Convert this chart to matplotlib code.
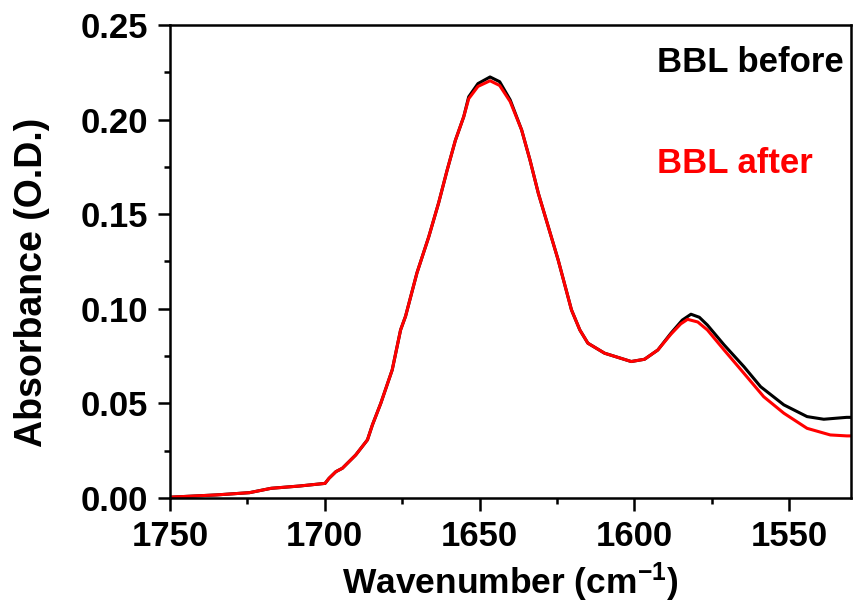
import matplotlib
matplotlib.use("Agg")
import matplotlib.pyplot as plt
import matplotlib.ticker as ticker

plt.rcParams['font.family'] = ['Liberation Sans', 'DejaVu Sans']
plt.rcParams['font.weight'] = 'bold'
plt.rcParams['mathtext.fontset'] = 'custom'
plt.rcParams['mathtext.bf'] = 'Liberation Sans:bold'
plt.rcParams['mathtext.rm'] = 'Liberation Sans:bold'
plt.rcParams['mathtext.default'] = 'bf'

# absorbance spectra (wavenumber in cm-1, absorbance in O.D.)
wn_before = [1750, 1735, 1724.3, 1717.3, 1708.2, 1699.9, 1698.6, 1696.4, 1694.3,
             1690.0, 1686.2, 1684.6, 1681.9, 1678.2, 1675.5, 1673.9, 1670.2,
             1666.4, 1663.2, 1660.5, 1657.8, 1655.1, 1653.5, 1650.5, 1646.6,
             1643.5, 1640.1, 1636.4, 1633.7, 1631.0, 1627.8, 1624.6,
             1620.3, 1617.6, 1615.0, 1609.6, 1601.0, 1596.7, 1592.4, 1588.2,
             1584.5, 1581.7, 1579.0, 1576.4, 1571.0, 1564.6, 1559.2, 1551.7,
             1544.2, 1538.8, 1531.4, 1530]
abs_before = [0.0004, 0.0016, 0.0028, 0.0051, 0.0063, 0.0077, 0.0104, 0.0139, 0.0157,
              0.0227, 0.0307, 0.0386, 0.050, 0.0677, 0.0888, 0.096, 0.119,
              0.138, 0.156, 0.173, 0.189, 0.2015, 0.212, 0.219, 0.2225,
              0.220, 0.2104, 0.1945, 0.1786, 0.161, 0.1434, 0.1258,
              0.0994, 0.0888, 0.0818, 0.0765, 0.0721, 0.0733, 0.0782, 0.087,
              0.094, 0.0971, 0.0955, 0.0914, 0.0809, 0.0694, 0.0588, 0.0492,
              0.043, 0.0416, 0.0426, 0.0426]

wn_after = [1750, 1735, 1724.3, 1717.3, 1708.2, 1699.9, 1698.6, 1696.4, 1694.3,
            1690.0, 1686.2, 1684.6, 1681.9, 1678.2, 1675.5, 1673.9, 1670.2,
            1666.4, 1663.2, 1660.5, 1657.8, 1655.1, 1653.5, 1650.5, 1646.6,
            1643.5, 1640.1, 1636.4, 1633.7, 1631.0, 1627.8, 1624.6,
            1620.3, 1617.6, 1615.0, 1609.6, 1601.0, 1596.7, 1592.4, 1588.2,
            1585.0, 1582.8, 1579.5, 1576.4, 1571.0, 1564.6, 1558.2, 1551.7,
            1544.2, 1536.7, 1531.4, 1530]
abs_after = [0.0004, 0.0016, 0.0028, 0.0051, 0.0063, 0.0077, 0.0104, 0.0139, 0.0157,
             0.0227, 0.0307, 0.0386, 0.050, 0.0677, 0.0888, 0.096, 0.119,
             0.138, 0.156, 0.173, 0.189, 0.2015, 0.211, 0.2175, 0.2205,
             0.218, 0.2095, 0.1945, 0.1786, 0.161, 0.1434, 0.1258,
             0.0994, 0.0888, 0.0818, 0.0765, 0.0721, 0.0733, 0.0782, 0.0865,
             0.092, 0.0944, 0.093, 0.0888, 0.0782, 0.0659, 0.0535, 0.0448,
             0.0368, 0.0333, 0.0328, 0.0328]

fig = plt.figure(figsize=(8.54, 6.08), dpi=100)
ax = fig.add_axes([0.199, 0.181, 0.7975, 0.778])

ax.plot(wn_before, abs_before, color='black', linewidth=2.2)
ax.plot(wn_after, abs_after, color='red', linewidth=2.2)

ax.set_xlim(1750, 1530)
ax.set_ylim(0, 0.25)

ax.xaxis.set_major_locator(ticker.MultipleLocator(50))
ax.xaxis.set_minor_locator(ticker.MultipleLocator(25))
ax.yaxis.set_major_locator(ticker.MultipleLocator(0.05))
ax.yaxis.set_minor_locator(ticker.MultipleLocator(0.025))
ax.yaxis.set_major_formatter(ticker.FormatStrFormatter('%.2f'))

ax.tick_params(which='both', direction='out', width=1.8, top=False, right=False,
               labelsize=25)
ax.tick_params(which='major', length=9, pad=7)
ax.tick_params(which='minor', length=4)
for sp in ax.spines.values():
    sp.set_linewidth(1.8)

ax.set_xlabel(r'Wavenumber (cm$^{-1}$)', fontsize=25.5, fontweight='bold')
ax.set_ylabel('Absorbance (O.D.)', fontsize=27, fontweight='bold')
ax.xaxis.set_label_coords(0.5, -0.133)
ax.yaxis.set_label_coords(-0.176, 0.455)

ax.text(0.715, 0.9, 'BBL before', transform=ax.transAxes, ha='left', va='baseline',
        fontsize=25, fontweight='bold', color='black')
ax.text(0.715, 0.687, 'BBL after', transform=ax.transAxes, ha='left', va='baseline',
        fontsize=25, fontweight='bold', color='red')

fig.savefig('out.png', dpi=100)
